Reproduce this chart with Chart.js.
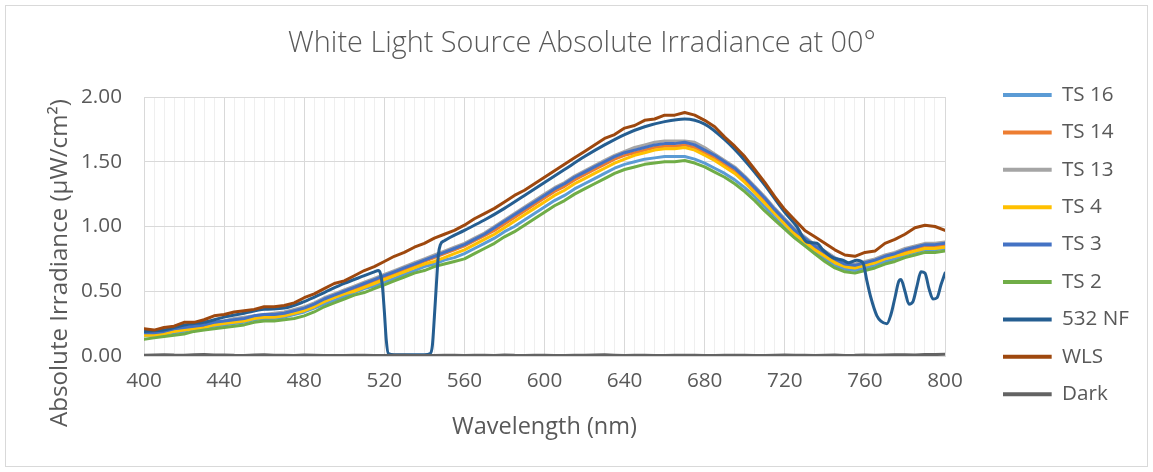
<!DOCTYPE html>
<html><head><meta charset="utf-8">
<script src="https://cdn.jsdelivr.net/npm/chart.js@4/dist/chart.umd.min.js"></script>
<style>html,body{margin:0;padding:0;background:#fff;}canvas{display:block}</style>
</head><body>
<canvas id="c" width="1153" height="472"></canvas>
<script>
// ---- data ----
const wavelengths = [400,405,410,415,420,425,430,435,440,445,450,455,460,465,470,475,480,485,490,495,500,505,510,515,520,525,530,535,540,545,550,555,560,565,570,575,580,585,590,595,600,605,610,615,620,625,630,635,640,645,650,655,660,665,670,675,680,685,690,695,700,705,710,715,720,725,730,735,740,745,750,755,760,765,770,775,780,785,790,795,800];
const ts16 = [0.16,0.16,0.17,0.18,0.19,0.21,0.22,0.23,0.24,0.25,0.26,0.28,0.29,0.29,0.30,0.32,0.34,0.37,0.40,0.43,0.46,0.49,0.52,0.54,0.57,0.60,0.63,0.66,0.69,0.71,0.74,0.76,0.79,0.83,0.87,0.91,0.96,1.00,1.05,1.10,1.15,1.20,1.24,1.29,1.33,1.37,1.41,1.45,1.48,1.50,1.52,1.53,1.54,1.54,1.54,1.52,1.49,1.45,1.41,1.36,1.30,1.23,1.15,1.07,0.99,0.92,0.86,0.80,0.75,0.70,0.67,0.66,0.68,0.70,0.73,0.75,0.78,0.80,0.82,0.82,0.83];
const ts14 = [0.17,0.17,0.18,0.20,0.21,0.22,0.23,0.25,0.26,0.27,0.28,0.30,0.31,0.31,0.32,0.34,0.36,0.39,0.43,0.46,0.49,0.52,0.55,0.58,0.61,0.64,0.67,0.70,0.73,0.76,0.79,0.82,0.85,0.89,0.93,0.97,1.02,1.07,1.12,1.17,1.22,1.27,1.31,1.36,1.40,1.44,1.48,1.52,1.55,1.57,1.59,1.61,1.62,1.62,1.63,1.61,1.57,1.53,1.48,1.43,1.36,1.28,1.20,1.12,1.04,0.96,0.90,0.84,0.79,0.74,0.70,0.69,0.71,0.73,0.76,0.78,0.81,0.83,0.85,0.85,0.86];
const ts13 = [0.18,0.19,0.20,0.21,0.22,0.24,0.25,0.26,0.27,0.29,0.30,0.31,0.32,0.33,0.34,0.36,0.38,0.41,0.45,0.48,0.51,0.54,0.57,0.60,0.63,0.66,0.69,0.72,0.75,0.78,0.81,0.84,0.87,0.91,0.95,1.00,1.05,1.10,1.15,1.20,1.25,1.30,1.34,1.39,1.43,1.47,1.51,1.55,1.58,1.61,1.63,1.65,1.66,1.66,1.66,1.65,1.61,1.56,1.51,1.46,1.39,1.31,1.23,1.14,1.06,0.98,0.92,0.86,0.81,0.76,0.72,0.71,0.73,0.75,0.78,0.80,0.83,0.85,0.87,0.87,0.88];
const ts4  = [0.16,0.16,0.17,0.19,0.20,0.21,0.22,0.24,0.25,0.26,0.27,0.29,0.30,0.30,0.31,0.33,0.35,0.38,0.42,0.45,0.48,0.50,0.53,0.56,0.59,0.62,0.65,0.68,0.71,0.73,0.76,0.79,0.82,0.86,0.90,0.94,0.99,1.04,1.09,1.14,1.19,1.24,1.28,1.33,1.37,1.41,1.45,1.49,1.52,1.55,1.57,1.59,1.60,1.60,1.61,1.59,1.55,1.51,1.46,1.41,1.34,1.26,1.18,1.10,1.02,0.94,0.88,0.82,0.77,0.72,0.69,0.68,0.70,0.72,0.75,0.77,0.79,0.81,0.83,0.83,0.84];
const ts3  = [0.18,0.18,0.19,0.21,0.22,0.23,0.24,0.26,0.27,0.28,0.29,0.31,0.32,0.32,0.33,0.35,0.37,0.40,0.44,0.47,0.50,0.53,0.56,0.59,0.62,0.65,0.68,0.71,0.74,0.77,0.80,0.83,0.86,0.90,0.94,0.99,1.04,1.09,1.14,1.19,1.24,1.29,1.33,1.38,1.42,1.46,1.50,1.54,1.57,1.59,1.61,1.63,1.64,1.64,1.65,1.63,1.59,1.55,1.50,1.45,1.38,1.30,1.22,1.13,1.05,0.97,0.91,0.85,0.80,0.75,0.71,0.70,0.72,0.74,0.77,0.79,0.82,0.84,0.86,0.86,0.87];
const ts2  = [0.13,0.14,0.15,0.16,0.17,0.19,0.20,0.21,0.22,0.23,0.24,0.26,0.27,0.27,0.28,0.29,0.31,0.34,0.38,0.41,0.44,0.47,0.49,0.52,0.55,0.58,0.61,0.64,0.66,0.69,0.71,0.73,0.75,0.79,0.83,0.87,0.92,0.96,1.01,1.06,1.11,1.16,1.20,1.25,1.29,1.33,1.37,1.41,1.44,1.46,1.48,1.49,1.50,1.50,1.51,1.49,1.46,1.42,1.38,1.33,1.27,1.20,1.12,1.05,0.98,0.91,0.85,0.79,0.73,0.68,0.65,0.64,0.66,0.68,0.71,0.73,0.76,0.78,0.80,0.80,0.81];
const wls  = [0.21,0.20,0.22,0.23,0.26,0.26,0.28,0.31,0.32,0.34,0.35,0.36,0.38,0.38,0.39,0.41,0.45,0.48,0.52,0.56,0.58,0.62,0.66,0.69,0.73,0.77,0.80,0.84,0.87,0.91,0.94,0.97,1.01,1.06,1.10,1.14,1.19,1.24,1.28,1.33,1.38,1.43,1.48,1.53,1.58,1.63,1.68,1.71,1.76,1.78,1.82,1.83,1.86,1.86,1.88,1.86,1.82,1.77,1.69,1.62,1.54,1.44,1.34,1.23,1.13,1.05,0.97,0.92,0.87,0.82,0.78,0.77,0.80,0.81,0.87,0.90,0.94,0.99,1.01,1.00,0.97];
const dark = [0.006,0.008,0.010,0.007,0.006,0.009,0.012,0.008,0.008,0.005,0.004,0.007,0.010,0.006,0.005,0.004,0.007,0.005,0.004,0.003,0.003,0.005,0.006,0.004,0.004,0.006,0.005,0.003,0.003,0.004,0.006,0.005,0.004,0.006,0.005,0.003,0.008,0.005,0.004,0.006,0.006,0.004,0.003,0.005,0.005,0.007,0.009,0.006,0.004,0.005,0.006,0.004,0.003,0.005,0.005,0.006,0.004,0.004,0.006,0.005,0.005,0.004,0.004,0.006,0.007,0.005,0.005,0.004,0.006,0.007,0.004,0.005,0.008,0.006,0.007,0.009,0.010,0.008,0.012,0.011,0.014];
const nfWavelengths = [400,410,420,430,440,450,460,470,480,490,500,510,515,517,518,519,520,521,522,525,530,535,540,543,544,545,546,547,548,550,560,570,580,590,600,610,620,630,640,650,660,670,680,690,700,710,720,726,731,736,739,744,749,752,756,759,761,763,766,768,771,773,775,777,778,780,782,784,786,788,790,792,794,796,798,800];
const nf532 = [0.19,0.20,0.24,0.26,0.30,0.33,0.36,0.37,0.42,0.49,0.56,0.62,0.65,0.66,0.64,0.55,0.35,0.12,0.02,0.01,0.01,0.01,0.01,0.02,0.08,0.30,0.55,0.78,0.86,0.89,0.97,1.05,1.14,1.24,1.34,1.44,1.54,1.63,1.71,1.77,1.81,1.83,1.79,1.67,1.51,1.32,1.11,1.00,0.88,0.87,0.82,0.76,0.74,0.72,0.74,0.72,0.58,0.45,0.31,0.27,0.25,0.32,0.45,0.58,0.59,0.50,0.40,0.42,0.54,0.65,0.64,0.52,0.44,0.45,0.55,0.64];
const seriesNames = ['TS 16','TS 14','TS 13','TS 4','TS 3','TS 2','532 NF','WLS','Dark'];
const yTicks = [0, 0.5, 1, 1.5, 2];
const xLabelStep = 40;

const titleText = 'White Light Source Absolute Irradiance at 00°';
const xTitle = 'Wavelength (nm)';
const yTitle = 'Absolute Irradiance (µW/cm²)';

// ---- styling / layout ----
const FAMILY = "'Open Sans', 'Liberation Sans', sans-serif";
const TEXT = '#595959';
const mctx = document.createElement('canvas').getContext('2d');
function fit(text, target, weight) { mctx.font = weight + ' 100px ' + FAMILY; return 100 * target / mctx.measureText(text).width; }
const titleSize = fit(titleText, 588, 300);
const tickSize = fit('0.00', 41, 400);
const xTitleSize = fit(xTitle, 185, 400);
const yTitleSize = fit(yTitle, 328, 400);
const legendSize = fit('532 NF', 67, 400);

const AREA = {left: 144, right: 945, top: 97, bottom: 356};
const ROW = 37.4;
const legendPad = ROW - legendSize;
const boxW = 59 - legendSize / 2;
mctx.font = '400 ' + legendSize + 'px ' + FAMILY;
const maxLegText = Math.max(...seriesNames.map(n => mctx.measureText(n).width));
const legendWidth = legendPad + boxW + legendSize / 2 + maxLegText + 10;
const legendLeft = 1003 - legendPad;
const R = Math.max(0, 1153 - legendLeft - legendWidth);
const L = R + 11;
const T = 17.2, B = 0;
const titlePadTop = 44 - T - 0.6 * titleSize;
const titlePadBottom = AREA.top - T - titlePadTop - 1.2 * titleSize;

const colors = ['#5B9BD5','#ED7D31','#A5A5A5','#FFC000','#4472C4','#70AD47','#255E91','#9E480E','#636363'];
const seriesY = [ts16, ts14, ts13, ts4, ts3, ts2, nf532, wls, dark];

const datasets = seriesNames.map((name, i) => {
  const isNF = name === '532 NF';
  const xs = isNF ? nfWavelengths : wavelengths;
  const ys = seriesY[i];
  const d = {
    label: name,
    data: xs.map((x, k) => ({x: x, y: ys[k]})),
    borderColor: colors[i],
    backgroundColor: colors[i],
    borderWidth: 3,
    pointRadius: 0,
    fill: false,
    borderCapStyle: 'round',
    borderJoinStyle: 'round',
    tension: 0,
    order: seriesNames.length - i
  };
  if (isNF) d.cubicInterpolationMode = 'monotone';
  return d;
});

const frame = {
  id: 'frame',
  beforeDraw(chart) {
    const c = chart.ctx;
    c.save();
    c.fillStyle = '#fff';
    c.fillRect(0, 0, chart.width, chart.height);
    c.strokeStyle = '#d9d9d9';
    c.lineWidth = 1;
    c.strokeRect(5.5, 5.5, 1142, 461);
    c.restore();
  },
  afterDraw(chart) {
    const c = chart.ctx;
    c.save();
    c.translate(60, 263);
    c.rotate(-Math.PI / 2);
    c.font = '400 ' + yTitleSize + 'px ' + FAMILY;
    c.fillStyle = TEXT;
    c.textAlign = 'center';
    c.textBaseline = 'middle';
    c.fillText(yTitle, 0, 0);
    c.restore();
  }
};

new Chart(document.getElementById('c'), {
  type: 'line',
  data: { datasets },
  plugins: [frame],
  options: {
    responsive: false,
    animation: false,
    devicePixelRatio: 1,
    layout: { padding: { left: L, right: R, top: T, bottom: B } },
    plugins: {
      tooltip: { enabled: false },
      title: {
        display: true, text: titleText, color: TEXT,
        font: { family: FAMILY, size: titleSize, weight: 300, lineHeight: 1.2 },
        padding: { top: titlePadTop, bottom: titlePadBottom }
      },
      legend: {
        position: 'right', align: 'center',
        labels: {
          color: TEXT,
          font: { family: FAMILY, size: legendSize },
          boxWidth: boxW, boxHeight: 4, padding: legendPad,
          sort: (a, b) => a.datasetIndex - b.datasetIndex,
          generateLabels: (chart) => Chart.defaults.plugins.legend.labels.generateLabels(chart)
            .map(l => Object.assign(l, { lineWidth: 0, fillStyle: l.strokeStyle }))
        }
      }
    },
    scales: {
      x: {
        type: 'linear', min: 400, max: 800,
        ticks: {
          stepSize: 5, autoSkip: false, maxRotation: 0, minRotation: 0,
          padding: 381 - AREA.bottom - 0.6 * tickSize,
          color: TEXT, font: { family: FAMILY, size: tickSize },
          callback: v => (v % xLabelStep === 0 ? String(v) : '')
        },
        grid: { drawTicks: false, lineWidth: 1,
          color: c => (c.tick && c.tick.value % xLabelStep === 0) ? '#d9d9d9' : '#efefef' },
        border: { color: '#d9d9d9' },
        title: { display: true, text: xTitle, color: TEXT,
          font: { family: FAMILY, size: xTitleSize, lineHeight: 1.2 },
          padding: { top: 0, bottom: 472 - B - 427 - 0.6 * xTitleSize } },
        afterFit: s => { s.height = 472 - B - AREA.bottom; }
      },
      y: {
        type: 'linear', min: 0, max: 2,
        afterBuildTicks: s => { s.ticks = yTicks.map(v => ({value: v})); },
        ticks: { padding: 22, color: TEXT, font: { family: FAMILY, size: tickSize },
          callback: v => Number(v).toFixed(2) },
        grid: { drawTicks: false, color: '#d9d9d9' },
        border: { display: false },
        afterFit: s => { s.width = AREA.left - L; }
      },
      y2: {
        type: 'linear', position: 'right', display: true,
        grid: { display: false, drawTicks: false },
        ticks: { display: false },
        border: { display: false },
        afterFit: s => { s.width = 58 - legendPad; }
      }
    }
  }
});
</script>
</body></html>
